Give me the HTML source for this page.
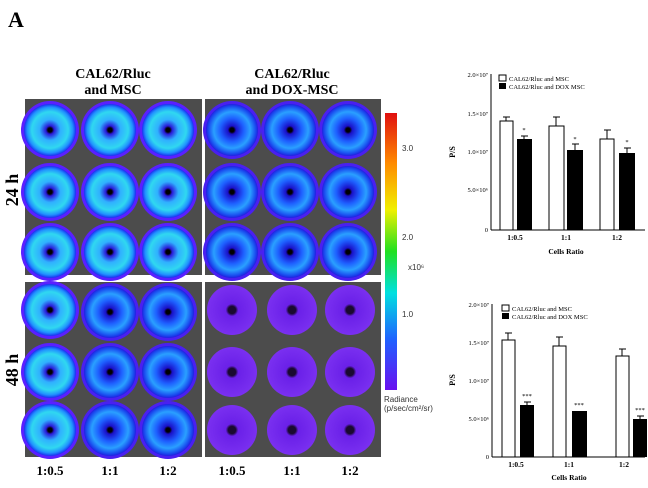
<!DOCTYPE html><html><head><style>
body{margin:0;background:#fff;width:648px;height:483px;overflow:hidden;font-family:"Liberation Serif",serif}
</style></head><body>
<svg width="648" height="483" xmlns="http://www.w3.org/2000/svg" font-family="Liberation Serif, serif">
<defs>
<radialGradient id="gb"><stop offset="0.08" stop-color="#000"/><stop offset="0.16" stop-color="#2a1ad8"/><stop offset="0.4" stop-color="#30b0ff"/><stop offset="0.7" stop-color="#30d8f0"/><stop offset="0.88" stop-color="#2090ff"/><stop offset="1" stop-color="#1a30f0"/></radialGradient>
<radialGradient id="gd"><stop offset="0.08" stop-color="#000"/><stop offset="0.16" stop-color="#1a10c8"/><stop offset="0.45" stop-color="#1e60ff"/><stop offset="0.7" stop-color="#2aa0ff"/><stop offset="0.9" stop-color="#1a50f0"/><stop offset="1" stop-color="#2020e0"/></radialGradient>
<radialGradient id="gp"><stop offset="0.15" stop-color="#1a0a30"/><stop offset="0.25" stop-color="#6a20e8"/><stop offset="1" stop-color="#7a30f0"/></radialGradient>
<linearGradient id="cb" x1="0" y1="0" x2="0" y2="1"><stop offset="0" stop-color="#e01010"/><stop offset="0.18" stop-color="#ff8a00"/><stop offset="0.35" stop-color="#f0f000"/><stop offset="0.5" stop-color="#20e020"/><stop offset="0.65" stop-color="#00e0e0"/><stop offset="0.82" stop-color="#2060ff"/><stop offset="1" stop-color="#6a10f0"/></linearGradient>
<g id="wb"><circle r="29" fill="#5a20ff"/><circle r="26" fill="url(#gb)"/></g>
<g id="wd"><circle r="29" fill="#4a20f0"/><circle r="26" fill="url(#gd)"/></g>
<g id="wp"><circle r="25" fill="url(#gp)"/></g>
</defs>
<text x="8" y="27" font-size="22" font-weight="bold">A</text>
<text x="113" y="78" font-size="14" font-weight="bold" text-anchor="middle">CAL62/Rluc</text>
<text x="113" y="94" font-size="14" font-weight="bold" text-anchor="middle">and MSC</text>
<text x="292" y="78" font-size="14" font-weight="bold" text-anchor="middle">CAL62/Rluc</text>
<text x="292" y="94" font-size="14" font-weight="bold" text-anchor="middle">and DOX-MSC</text>
<text transform="translate(18,190) rotate(-90)" font-size="18" font-weight="bold" text-anchor="middle">24 h</text>
<text transform="translate(18,370) rotate(-90)" font-size="18" font-weight="bold" text-anchor="middle">48 h</text>
<rect x="25" y="99" width="177" height="176" fill="#4c4c4c"/>
<rect x="205" y="99" width="176" height="176" fill="#4c4c4c"/>
<rect x="25" y="282" width="177" height="175" fill="#4c4c4c"/>
<rect x="205" y="282" width="176" height="175" fill="#4c4c4c"/>
<use href="#wb" x="50" y="130"/><use href="#wb" x="110" y="130"/><use href="#wb" x="168" y="130"/>
<use href="#wb" x="50" y="192"/><use href="#wb" x="110" y="192"/><use href="#wb" x="168" y="192"/>
<use href="#wb" x="50" y="252"/><use href="#wb" x="110" y="252"/><use href="#wb" x="168" y="252"/>
<use href="#wd" x="232" y="130"/><use href="#wd" x="290" y="130"/><use href="#wd" x="348" y="130"/>
<use href="#wd" x="232" y="192"/><use href="#wd" x="290" y="192"/><use href="#wd" x="348" y="192"/>
<use href="#wd" x="232" y="252"/><use href="#wd" x="290" y="252"/><use href="#wd" x="348" y="252"/>
<use href="#wb" x="50" y="310"/><use href="#wd" x="110" y="312"/><use href="#wd" x="168" y="312"/>
<use href="#wb" x="50" y="372"/><use href="#wd" x="110" y="372"/><use href="#wd" x="168" y="372"/>
<use href="#wb" x="50" y="430"/><use href="#wd" x="110" y="430"/><use href="#wd" x="168" y="430"/>
<use href="#wp" x="232" y="310"/><use href="#wp" x="292" y="310"/><use href="#wp" x="350" y="310"/>
<use href="#wp" x="232" y="372"/><use href="#wp" x="292" y="372"/><use href="#wp" x="350" y="372"/>
<use href="#wp" x="232" y="430"/><use href="#wp" x="292" y="430"/><use href="#wp" x="350" y="430"/>
<g font-size="13" font-weight="bold" text-anchor="middle"><text x="50" y="475">1:0.5</text><text x="110" y="475">1:1</text><text x="168" y="475">1:2</text><text x="232" y="475">1:0.5</text><text x="292" y="475">1:1</text><text x="350" y="475">1:2</text></g>
<rect x="385" y="113" width="12" height="277" fill="url(#cb)"/>
<g font-family="Liberation Sans, sans-serif" font-size="8" fill="#333"><text x="402" y="151">3.0</text><text x="402" y="240">2.0</text><text x="402" y="317">1.0</text><text x="408" y="270">x10⁶</text><text x="384" y="402">Radiance</text><text x="384" y="411">(p/sec/cm²/sr)</text></g>
<g font-size="6.5">
<line x1="491" y1="74" x2="491" y2="230" stroke="#000"/><line x1="491" y1="230" x2="645" y2="230" stroke="#000"/>
<text x="488" y="77" text-anchor="end">2.0×10⁷</text><text x="488" y="116" text-anchor="end">1.5×10⁷</text><text x="488" y="154" text-anchor="end">1.0×10⁷</text><text x="488" y="192" text-anchor="end">5.0×10⁶</text><text x="488" y="232" text-anchor="end">0</text>
<text transform="translate(455,152) rotate(-90)" font-size="8" font-weight="bold" text-anchor="middle">P/S</text>
<rect x="499" y="75" width="7" height="6" fill="#fff" stroke="#000"/><text x="509" y="81">CAL62/Rluc and MSC</text>
<rect x="499" y="83" width="7" height="6" fill="#000"/><text x="509" y="89">CAL62/Rluc and DOX MSC</text>
<rect x="500" y="121" width="13" height="109" fill="#fff" stroke="#000"/><path d="M506 121V117M503 117H510" stroke="#000"/>
<rect x="517" y="139" width="15" height="91" fill="#000"/><path d="M524 139V136M521 136H528" stroke="#000"/><text x="524" y="132" text-anchor="middle">*</text>
<rect x="549" y="126" width="15" height="104" fill="#fff" stroke="#000"/><path d="M556 126V117M553 117H560" stroke="#000"/>
<rect x="567" y="150" width="16" height="80" fill="#000"/><path d="M575 150V144M572 144H579" stroke="#000"/><text x="575" y="141" text-anchor="middle">*</text>
<rect x="600" y="139" width="14" height="91" fill="#fff" stroke="#000"/><path d="M607 139V130M604 130H611" stroke="#000"/>
<rect x="619" y="153" width="16" height="77" fill="#000"/><path d="M627 153V148M624 148H631" stroke="#000"/><text x="627" y="144" text-anchor="middle">*</text>
<g text-anchor="middle" font-size="7.5" font-weight="bold"><text x="515" y="240">1:0.5</text><text x="566" y="240">1:1</text><text x="617" y="240">1:2</text><text x="566" y="254">Cells Ratio</text></g>
</g>
<g font-size="6.5">
<line x1="492" y1="304" x2="492" y2="457" stroke="#000"/><line x1="492" y1="457" x2="645" y2="457" stroke="#000"/>
<text x="489" y="307" text-anchor="end">2.0×10⁷</text><text x="489" y="345" text-anchor="end">1.5×10⁷</text><text x="489" y="383" text-anchor="end">1.0×10⁷</text><text x="489" y="421" text-anchor="end">5.0×10⁶</text><text x="489" y="459" text-anchor="end">0</text>
<text transform="translate(455,380) rotate(-90)" font-size="8" font-weight="bold" text-anchor="middle">P/S</text>
<rect x="502" y="305" width="7" height="6" fill="#fff" stroke="#000"/><text x="512" y="311">CAL62/Rluc and MSC</text>
<rect x="502" y="313" width="7" height="6" fill="#000"/><text x="512" y="319">CAL62/Rluc and DOX MSC</text>
<rect x="502" y="340" width="13" height="117" fill="#fff" stroke="#000"/><path d="M508 340V333M505 333H512" stroke="#000"/>
<rect x="520" y="405" width="14" height="52" fill="#000"/><path d="M527 405V402M524 402H531" stroke="#000"/><text x="527" y="398" text-anchor="middle">***</text>
<rect x="553" y="346" width="13" height="111" fill="#fff" stroke="#000"/><path d="M559 346V337M556 337H563" stroke="#000"/>
<rect x="572" y="411" width="15" height="46" fill="#000"/><text x="579" y="407" text-anchor="middle">***</text>
<rect x="616" y="356" width="13" height="101" fill="#fff" stroke="#000"/><path d="M622 356V349M619 349H626" stroke="#000"/>
<rect x="633" y="419" width="14" height="38" fill="#000"/><path d="M640 419V416M637 416H644" stroke="#000"/><text x="640" y="412" text-anchor="middle">***</text>
<g text-anchor="middle" font-size="7.5" font-weight="bold"><text x="516" y="467">1:0.5</text><text x="569" y="467">1:1</text><text x="624" y="467">1:2</text><text x="569" y="480">Cells Ratio</text></g>
</g>
</svg>
</body></html>
